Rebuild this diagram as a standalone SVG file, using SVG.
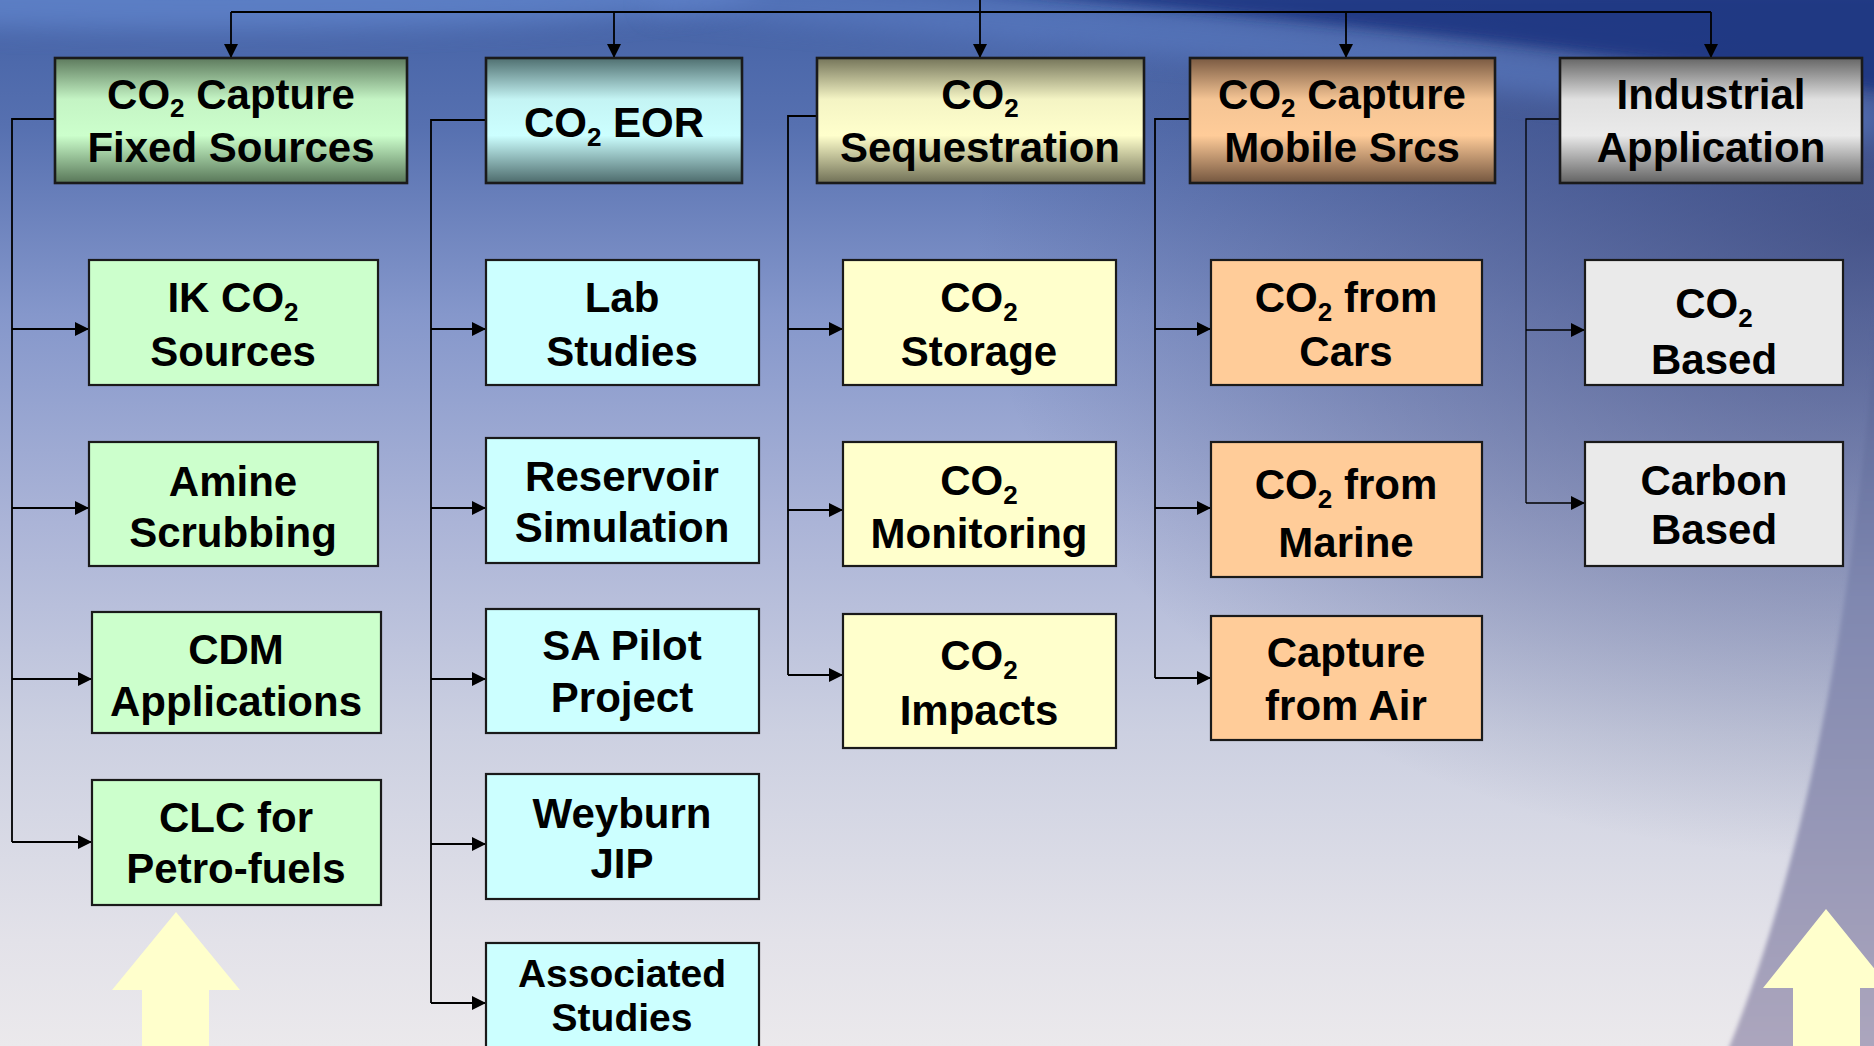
<svg xmlns="http://www.w3.org/2000/svg" width="1874" height="1046" viewBox="0 0 1874 1046">
<defs>
<style>
.t{font-family:"Liberation Sans",Arial,sans-serif;font-size:42px;font-weight:bold;text-anchor:middle;fill:#000}
.s{font-size:26px}
.box{stroke:#1a1a1a;stroke-width:2.2}
.hdr{stroke:#1a1a1a;stroke-width:2.6}
.c1{fill:#ccffcc}.c2{fill:#ccffff}.c3{fill:#ffffcc}.c4{fill:#ffcc99}.c5{fill:#eaeaea}
.ln{fill:none;stroke:#000;stroke-width:1.8}
.ln5{fill:none;stroke:#000;stroke-width:1.3}
.yarrow{fill:#ffffcc}
</style>
<marker id="ah" markerWidth="16" markerHeight="16" refX="14" refY="7" orient="auto" markerUnits="userSpaceOnUse"><path d="M0,0 L14,7 L0,14 Z" fill="#000"/></marker>
<linearGradient id="bg" x1="0" y1="0" x2="0" y2="1">
<stop offset="0" stop-color="#4462a6"/>
<stop offset="0.12" stop-color="#5670b0"/>
<stop offset="0.3" stop-color="#8597cb"/>
<stop offset="0.5" stop-color="#abb4d7"/>
<stop offset="0.7" stop-color="#ccd0e1"/>
<stop offset="0.9" stop-color="#e3e2e9"/>
<stop offset="1" stop-color="#ebe9ec"/>
</linearGradient>
<radialGradient id="rdark" cx="1874" cy="230" r="900" gradientUnits="userSpaceOnUse" gradientTransform="translate(1874 230) scale(1 0.7) translate(-1874 -230)">
<stop offset="0" stop-color="#2a3468" stop-opacity="0.6"/>
<stop offset="0.6" stop-color="#2a3468" stop-opacity="0.25"/>
<stop offset="1" stop-color="#2a3468" stop-opacity="0"/>
</radialGradient>
<linearGradient id="rband" x1="0" y1="0" x2="0" y2="1">
<stop offset="0" stop-color="#46568c"/>
<stop offset="0.45" stop-color="#8088b0"/>
<stop offset="1" stop-color="#aca6bd"/>
</linearGradient>
<filter id="b12" x="-20%" y="-50%" width="140%" height="200%"><feGaussianBlur stdDeviation="12"/></filter>
<filter id="b6" x="-20%" y="-50%" width="140%" height="200%"><feGaussianBlur stdDeviation="6"/></filter>
<filter id="b2"><feGaussianBlur stdDeviation="2"/></filter>
<linearGradient id="h1" x1="0" y1="0" x2="0" y2="1"><stop offset="0" stop-color="#5d7a5d"/><stop offset="0.33" stop-color="#c4f4c4"/><stop offset="0.62" stop-color="#ccffcc"/><stop offset="1" stop-color="#587658"/></linearGradient>
<linearGradient id="h2" x1="0" y1="0" x2="0" y2="1"><stop offset="0" stop-color="#4f6f70"/><stop offset="0.33" stop-color="#c4f4f4"/><stop offset="0.62" stop-color="#ccffff"/><stop offset="1" stop-color="#4c6a6b"/></linearGradient>
<linearGradient id="h3" x1="0" y1="0" x2="0" y2="1"><stop offset="0" stop-color="#75755a"/><stop offset="0.33" stop-color="#f4f4c4"/><stop offset="0.62" stop-color="#ffffcc"/><stop offset="1" stop-color="#707056"/></linearGradient>
<linearGradient id="h4" x1="0" y1="0" x2="0" y2="1"><stop offset="0" stop-color="#7a5a42"/><stop offset="0.33" stop-color="#f4c494"/><stop offset="0.62" stop-color="#ffcc99"/><stop offset="1" stop-color="#74563f"/></linearGradient>
<linearGradient id="h5" x1="0" y1="0" x2="0" y2="1"><stop offset="0" stop-color="#666666"/><stop offset="0.33" stop-color="#e0e0e0"/><stop offset="0.62" stop-color="#eaeaea"/><stop offset="1" stop-color="#626262"/></linearGradient>
</defs>

<g id="background">
<rect x="0" y="0" width="1874" height="1046" fill="url(#bg)"/>
<rect x="0" y="0" width="1874" height="1046" fill="url(#rdark)"/>
<ellipse cx="200" cy="-10" rx="560" ry="40" fill="#6a90d8" opacity="0.6" filter="url(#b12)"/>
<path d="M650,-10 C1000,18 1500,58 1880,122" fill="none" stroke="#5f80c8" stroke-width="44" opacity="0.55" filter="url(#b12)"/>
<path d="M980,-10 L1890,-10 L1890,92 C1600,50 1300,18 980,-10 Z" fill="#1e3582" opacity="0.85" filter="url(#b6)"/>
<path d="M1880,230 C1870,500 1822,820 1728,1050 L1880,1050 Z" fill="url(#rband)" filter="url(#b2)"/>
</g>

<g id="decor">
<polygon class="yarrow" points="176,912 240,990 209,990 209,1046 142,1046 142,990 112,990"/>
<polygon class="yarrow" points="1826,909 1890,988 1860,988 1860,1046 1793,1046 1793,988 1763,988"/>
</g>

<g id="connectors">
<path class="ln" d="M231,12 H1711"/>
<path class="ln" d="M980,0 V58" marker-end="url(#ah)"/>
<path class="ln" d="M231,12 V58" marker-end="url(#ah)"/>
<path class="ln" d="M614,12 V58" marker-end="url(#ah)"/>
<path class="ln" d="M1346,12 V58" marker-end="url(#ah)"/>
<path class="ln" d="M1711,12 V58" marker-end="url(#ah)"/>
<path class="ln" d="M55,119 H12 V842"/>
<path class="ln" d="M12,329 H89" marker-end="url(#ah)"/>
<path class="ln" d="M12,508 H89" marker-end="url(#ah)"/>
<path class="ln" d="M12,679 H92" marker-end="url(#ah)"/>
<path class="ln" d="M12,842 H92" marker-end="url(#ah)"/>
<path class="ln" d="M486,120 H431 V1003"/>
<path class="ln" d="M431,329 H486" marker-end="url(#ah)"/>
<path class="ln" d="M431,508 H486" marker-end="url(#ah)"/>
<path class="ln" d="M431,679 H486" marker-end="url(#ah)"/>
<path class="ln" d="M431,844 H486" marker-end="url(#ah)"/>
<path class="ln" d="M431,1003 H486" marker-end="url(#ah)"/>
<path class="ln" d="M817,116 H788 V675"/>
<path class="ln" d="M788,329 H843" marker-end="url(#ah)"/>
<path class="ln" d="M788,510 H843" marker-end="url(#ah)"/>
<path class="ln" d="M788,675 H843" marker-end="url(#ah)"/>
<path class="ln" d="M1190,119 H1155 V678"/>
<path class="ln" d="M1155,329 H1211" marker-end="url(#ah)"/>
<path class="ln" d="M1155,508 H1211" marker-end="url(#ah)"/>
<path class="ln" d="M1155,678 H1211" marker-end="url(#ah)"/>
<path class="ln5" d="M1560,119 H1526 V503"/>
<path class="ln5" d="M1526,330 H1585" marker-end="url(#ah)"/>
<path class="ln5" d="M1526,503 H1585" marker-end="url(#ah)"/>
</g>

<g id="h-capture-fixed">
<rect class="hdr" x="55" y="58" width="352" height="125" fill="url(#h1)"/>
<text class="t" x="231" y="109">CO<tspan class="s" dy="8">2</tspan><tspan dy="-8"> Capture</tspan></text>
<text class="t" x="231" y="162">Fixed Sources</text>
</g>
<g id="h-eor">
<rect class="hdr" x="486" y="58" width="256" height="125" fill="url(#h2)"/>
<text class="t" x="614" y="137">CO<tspan class="s" dy="9">2</tspan><tspan dy="-9"> EOR</tspan></text>
</g>
<g id="h-sequestration">
<rect class="hdr" x="817" y="58" width="327" height="125" fill="url(#h3)"/>
<text class="t" x="980" y="109">CO<tspan class="s" dy="8">2</tspan></text>
<text class="t" x="980" y="162">Sequestration</text>
</g>
<g id="h-capture-mobile">
<rect class="hdr" x="1190" y="58" width="305" height="125" fill="url(#h4)"/>
<text class="t" x="1342" y="109">CO<tspan class="s" dy="8">2</tspan><tspan dy="-8"> Capture</tspan></text>
<text class="t" x="1342" y="162">Mobile Srcs</text>
</g>
<g id="h-industrial">
<rect class="hdr" x="1560" y="58" width="302" height="125" fill="url(#h5)"/>
<text class="t" x="1711" y="109">Industrial</text>
<text class="t" x="1711" y="162">Application</text>
</g>

<g id="n-ik-co2-sources">
<rect class="box c1" x="89" y="260" width="289" height="125"/>
<text class="t" x="233" y="312">IK CO<tspan class="s" dy="9">2</tspan></text>
<text class="t" x="233" y="366">Sources</text>
</g>
<g id="n-amine">
<rect class="box c1" x="89" y="442" width="289" height="124"/>
<text class="t" x="233" y="496">Amine</text>
<text class="t" x="233" y="547">Scrubbing</text>
</g>
<g id="n-cdm">
<rect class="box c1" x="92" y="612" width="289" height="121"/>
<text class="t" x="236" y="664">CDM</text>
<text class="t" x="236" y="716">Applications</text>
</g>
<g id="n-clc">
<rect class="box c1" x="92" y="780" width="289" height="125"/>
<text class="t" x="236" y="832">CLC for</text>
<text class="t" x="236" y="883">Petro-fuels</text>
</g>

<g id="n-lab">
<rect class="box c2" x="486" y="260" width="273" height="125"/>
<text class="t" x="622" y="312">Lab</text>
<text class="t" x="622" y="366">Studies</text>
</g>
<g id="n-reservoir">
<rect class="box c2" x="486" y="438" width="273" height="125"/>
<text class="t" x="622" y="491">Reservoir</text>
<text class="t" x="622" y="542">Simulation</text>
</g>
<g id="n-sa-pilot">
<rect class="box c2" x="486" y="609" width="273" height="124"/>
<text class="t" x="622" y="660">SA Pilot</text>
<text class="t" x="622" y="712">Project</text>
</g>
<g id="n-weyburn">
<rect class="box c2" x="486" y="774" width="273" height="125"/>
<text class="t" x="622" y="828">Weyburn</text>
<text class="t" x="622" y="878">JIP</text>
</g>
<g id="n-associated">
<rect class="box c2" x="486" y="943" width="273" height="120"/>
<text class="t" x="622" y="987" style="font-size:39px">Associated</text>
<text class="t" x="622" y="1031" style="font-size:39px">Studies</text>
</g>

<g id="n-storage">
<rect class="box c3" x="843" y="260" width="273" height="125"/>
<text class="t" x="979" y="312">CO<tspan class="s" dy="9">2</tspan></text>
<text class="t" x="979" y="366">Storage</text>
</g>
<g id="n-monitoring">
<rect class="box c3" x="843" y="442" width="273" height="124"/>
<text class="t" x="979" y="495">CO<tspan class="s" dy="9">2</tspan></text>
<text class="t" x="979" y="548">Monitoring</text>
</g>
<g id="n-impacts">
<rect class="box c3" x="843" y="614" width="273" height="134"/>
<text class="t" x="979" y="670">CO<tspan class="s" dy="9">2</tspan></text>
<text class="t" x="979" y="725">Impacts</text>
</g>

<g id="n-cars">
<rect class="box c4" x="1211" y="260" width="271" height="125"/>
<text class="t" x="1346" y="312">CO<tspan class="s" dy="9">2</tspan><tspan dy="-9"> from</tspan></text>
<text class="t" x="1346" y="366">Cars</text>
</g>
<g id="n-marine">
<rect class="box c4" x="1211" y="442" width="271" height="135"/>
<text class="t" x="1346" y="499">CO<tspan class="s" dy="9">2</tspan><tspan dy="-9"> from</tspan></text>
<text class="t" x="1346" y="557">Marine</text>
</g>
<g id="n-air">
<rect class="box c4" x="1211" y="616" width="271" height="124"/>
<text class="t" x="1346" y="667">Capture</text>
<text class="t" x="1346" y="720">from Air</text>
</g>

<g id="n-co2-based">
<rect class="box c5" x="1585" y="260" width="258" height="125"/>
<text class="t" x="1714" y="318">CO<tspan class="s" dy="9">2</tspan></text>
<text class="t" x="1714" y="374">Based</text>
</g>
<g id="n-carbon-based">
<rect class="box c5" x="1585" y="442" width="258" height="124"/>
<text class="t" x="1714" y="495">Carbon</text>
<text class="t" x="1714" y="544">Based</text>
</g>
</svg>
